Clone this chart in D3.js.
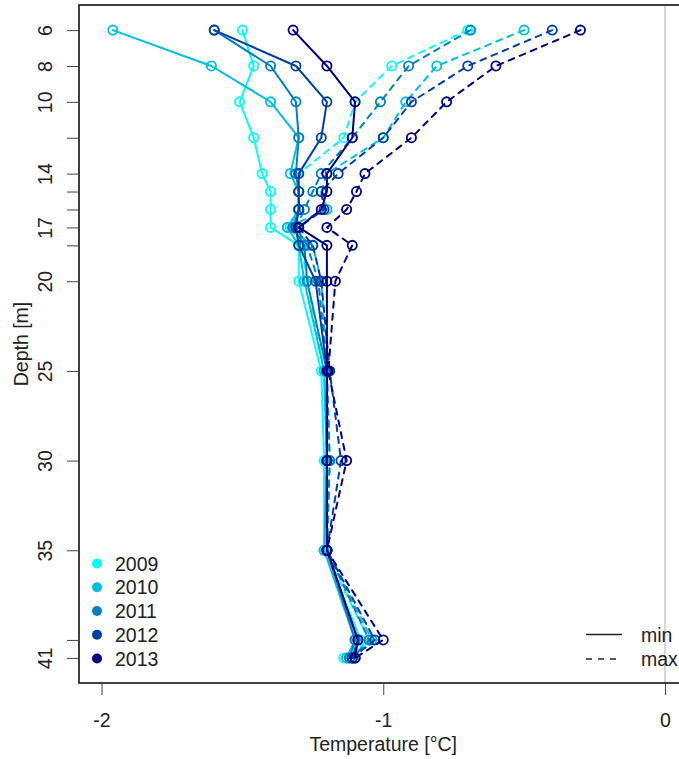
<!DOCTYPE html>
<html>
<head>
<meta charset="utf-8">
<script src="https://cdn.jsdelivr.net/npm/d3@7"></script>
<style>
  html, body { margin: 0; padding: 0; background: #ffffff; }
  svg { display: block; }
  text { font-family: "Liberation Sans", Arial, Helvetica, sans-serif; fill: #222; }
</style>
</head>
<body>
<svg id="chart" width="679" height="759"></svg>
<script>
// ---------------- data ----------------
const depths = [6, 8, 10, 12, 14, 15, 16, 17, 18, 20, 25, 30, 35, 40, 41];
const depthTickLabels = [6, 8, 10, 14, 17, 20, 25, 30, 35, 41];
const years = ["2009", "2010", "2011", "2012", "2013"];
const yearColors = ["#00FFFF", "#00BFDF", "#0080BF", "#0040A0", "#000080"];
const tempTicks = [-2, -1, 0];

const min2009 = [-1.50, -1.46, -1.51, -1.46, -1.43, -1.40, -1.40, -1.40, -1.30, -1.30, -1.22, -1.21, -1.21, -1.08, -1.14];
const min2010 = [-1.96, -1.61, -1.40, -1.30, -1.33, -1.30, -1.30, -1.34, -1.30, -1.28, -1.21, -1.20, -1.21, -1.10, -1.13];
const min2011 = [-1.60, -1.40, -1.31, -1.30, -1.31, -1.30, -1.30, -1.32, -1.28, -1.27, -1.20, -1.20, -1.20, -1.10, -1.12];
const min2012 = [-1.60, -1.31, -1.20, -1.22, -1.30, -1.30, -1.30, -1.31, -1.30, -1.24, -1.20, -1.20, -1.20, -1.09, -1.11];
const min2013 = [-1.32, -1.20, -1.10, -1.11, -1.20, -1.20, -1.22, -1.30, -1.20, -1.20, -1.20, -1.20, -1.20, -1.09, -1.10];

const max2009 = [-0.70, -0.97, -1.10, -1.14, -1.30, -1.30, -1.30, -1.33, -1.29, -1.27, -1.21, -1.20, -1.21, -1.05, -1.13];
const max2010 = [-0.50, -0.81, -0.92, -1.00, -1.20, -1.22, -1.20, -1.34, -1.25, -1.22, -1.20, -1.19, -1.20, -1.04, -1.12];
const max2011 = [-0.69, -0.91, -1.01, -1.11, -1.22, -1.25, -1.28, -1.31, -1.27, -1.23, -1.20, -1.19, -1.20, -1.05, -1.11];
const max2012 = [-0.40, -0.70, -0.90, -1.00, -1.16, -1.22, -1.21, -1.30, -1.25, -1.22, -1.19, -1.15, -1.20, -1.03, -1.11];
const max2013 = [-0.30, -0.60, -0.775, -0.90, -1.065, -1.095, -1.13, -1.20, -1.11, -1.17, -1.195, -1.13, -1.20, -1.00, -1.10];

const minSeries = [min2009, min2010, min2011, min2012, min2013];
const maxSeries = [max2009, max2010, max2011, max2012, max2013];

// ---------------- layout ----------------
const svg = d3.select("#chart");
const plot = { left: 79, top: 5, right: 687.5, bottom: 683 };
const fontSize = "19.5px";

const x = d3.scaleLinear().domain([-2.08, 0.08]).range([plot.left, plot.right]);
const y = d3.scaleLinear().domain([4.6, 42.4]).range([plot.top, plot.bottom]);

// reference line at 0
svg.append("line")
  .attr("x1", x(0)).attr("x2", x(0))
  .attr("y1", plot.top).attr("y2", plot.bottom)
  .attr("stroke", "#BEBEBE").attr("stroke-width", 1.2);

// series
const lineGen = d3.line().x(d => x(d.t)).y(d => y(d.depth));
const gSeries = svg.append("g");
years.forEach((yr, i) => {
  [["min", minSeries[i], null], ["max", maxSeries[i], "6,6"]].forEach(([kind, vals, dash]) => {
    const pts = depths.map((dp, k) => ({ depth: dp, t: vals[k] }));
    const g = gSeries.append("g").attr("class", `s-${yr}-${kind}`);
    g.append("path")
      .attr("d", lineGen(pts))
      .attr("fill", "none")
      .attr("stroke", yearColors[i])
      .attr("stroke-width", 2)
      .attr("stroke-linecap", "round")
      .attr("stroke-linejoin", "round")
      .attr("stroke-dasharray", dash);
    g.selectAll("circle").data(pts).join("circle")
      .attr("cx", d => x(d.t)).attr("cy", d => y(d.depth))
      .attr("r", 4.6)
      .attr("fill", "none")
      .attr("stroke", yearColors[i])
      .attr("stroke-width", 1.8);
  });
});

// box
svg.append("rect")
  .attr("x", plot.left).attr("y", plot.top)
  .attr("width", plot.right - plot.left + 20).attr("height", plot.bottom - plot.top)
  .attr("fill", "none").attr("stroke", "#111").attr("stroke-width", 1.6);

// x axis
const xAxis = svg.append("g")
  .attr("transform", `translate(0,${plot.bottom})`)
  .call(d3.axisBottom(x).tickValues(tempTicks).tickSize(12).tickFormat(d => String(d)));
xAxis.select(".domain").remove();
xAxis.selectAll(".tick line").attr("stroke", "#444");
xAxis.selectAll(".tick text")
  .attr("dy", null).attr("y", 44)
  .style("font-size", fontSize).attr("fill", "#222");

// y axis
const yAxis = svg.append("g")
  .attr("transform", `translate(${plot.left},0)`)
  .call(d3.axisLeft(y).tickValues(depths).tickSize(12)
    .tickFormat(d => depthTickLabels.includes(d) ? String(d) : ""));
yAxis.select(".domain").remove();
yAxis.selectAll(".tick line").attr("stroke", "#444");
yAxis.selectAll(".tick text")
  .attr("x", null).attr("dy", null)
  .attr("text-anchor", "middle")
  .attr("transform", "translate(-27,0) rotate(-90)")
  .style("font-size", fontSize).attr("fill", "#222");

// axis titles
svg.append("text")
  .attr("x", x(-1)).attr("y", 751)
  .attr("text-anchor", "middle")
  .style("font-size", fontSize)
  .text("Temperature [°C]");
svg.append("text")
  .attr("transform", `translate(28,${(plot.top + plot.bottom) / 2}) rotate(-90)`)
  .attr("text-anchor", "middle")
  .style("font-size", fontSize)
  .text("Depth [m]");

// year legend
const legY = d3.scalePoint().domain(years).range([563.5, 658.5]);
const leg = svg.append("g");
years.forEach((yr, i) => {
  leg.append("circle")
    .attr("cx", 97).attr("cy", legY(yr)).attr("r", 5)
    .attr("fill", yearColors[i]);
  leg.append("text")
    .attr("x", 115).attr("y", legY(yr)).attr("dy", "0.36em")
    .style("font-size", fontSize)
    .text(yr);
});

// line-type legend
const ltypes = [["min", null], ["max", "6,6"]];
const ltY = d3.scalePoint().domain(["min", "max"]).range([634.5, 659]);
ltypes.forEach(([lab, dash]) => {
  svg.append("line")
    .attr("x1", 586).attr("x2", 622)
    .attr("y1", ltY(lab)).attr("y2", ltY(lab))
    .attr("stroke", "#222").attr("stroke-width", 1.6)
    .attr("stroke-dasharray", dash);
  svg.append("text")
    .attr("x", 641).attr("y", ltY(lab)).attr("dy", "0.36em")
    .style("font-size", fontSize)
    .text(lab);
});
</script>
</body>
</html>
